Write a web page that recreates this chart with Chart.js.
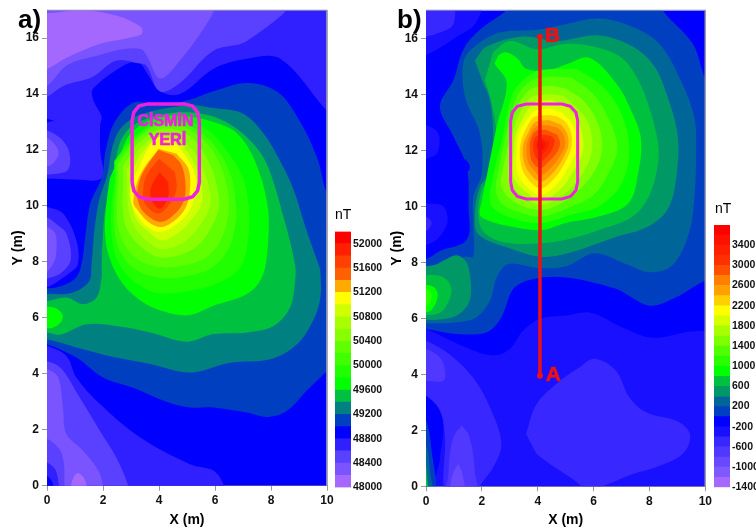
<!DOCTYPE html>
<html>
<head>
<meta charset="utf-8">
<title>Manyetik anomali haritalari</title>
<script src="https://cdn.jsdelivr.net/npm/chart.js@4"></script>
<style>
  html, body { margin: 0; padding: 0; background: #fff; overflow: hidden; width: 756px; height: 529px; }
  .box { position: absolute; top: 0; height: 529px; }
  canvas { filter: blur(0.35px); }
  .txt { position: absolute; font-family: "Liberation Sans", Arial, sans-serif; color: #000; line-height: 1; }
</style>
</head>
<body>
<div class="box" style="left:0;width:339px"><canvas id="mapA"></canvas></div>
<div class="box" style="left:379px;width:339px"><canvas id="mapB"></canvas></div>
<div class="box" style="left:330px;width:60px"><canvas id="barA"></canvas></div>
<div class="box" style="left:709px;width:47px"><canvas id="barB"></canvas></div>
<div class="txt" style="left:18px;top:6px;font-size:26px;font-weight:bold">a)</div>
<div class="txt" style="left:397px;top:6px;font-size:26px;font-weight:bold">b)</div>
<div class="txt" style="left:335px;top:207px;font-size:14px">nT</div>
<div class="txt" style="left:715px;top:201px;font-size:14px">nT</div>
<script>
var xTicks = [0, 2, 4, 6, 8, 10];
var yTicks = [0, 2, 4, 6, 8, 10, 12, 14, 16];

var bandsA = [48000, 48200, 48400, 48600, 48800, 49000, 49200, 49400, 49600, 49800, 50000,
  50200, 50400, 50600, 50800, 51000, 51200, 51400, 51600, 51800, 52000];
var colorsA = ["#a468ff", "#7a55ff", "#5a40ff", "#3020ff", "#0000ff", "#0040c0", "#008080",
  "#00c040", "#00ff00", "#20ff00", "#40ff00", "#60ff00", "#88ff00", "#a8ff00", "#d0ff00",
  "#ffff00", "#ffaa00", "#ff6000", "#ff4000", "#ff2000", "#ff0000"];
var barTicksA = [48000, 48400, 48800, 49200, 49600, 50000, 50400, 50800, 51200, 51600, 52000];

var bandsB = [-1400, -1200, -1000, -800, -600, -400, -200, 0, 200, 400, 600, 800, 1000,
  1200, 1400, 1600, 1800, 2000, 2200, 2400, 2600, 2800, 3000, 3200, 3400, 3600];
var colorsB = ["#a468ff", "#8058ff", "#6a48ff", "#5038ff", "#3828ff", "#1810ff", "#0000ff",
  "#0040c0", "#006699", "#009966", "#00c040", "#00ff00", "#28ff00", "#50ff00", "#80ff00",
  "#a8ff00", "#d8ff00", "#ffff00", "#ffd000", "#ffa000", "#ff8000", "#ff5000", "#ff3000",
  "#ff2000", "#ff1000", "#ff0000"];
var barTicksB = [-1400, -1000, -600, -200, 200, 600, 1000, 1400, 1800, 2200, 2600, 3000, 3400];

// filled contours, painted in this order: [band, outline in metres]
var contoursA = [
  [48800, [[0,0],[10,0],[10,17],[0,17]]],
  [48600, [[-.3,17.3],[10.3,17.3],[10.3,13.2],[10,13.4],[8.33,15.26],[7.14,15.26],[5.94,14.9],[4.75,14],[4.03,14.1],[3.6,14.7],[3.3,15.1],[2.84,15.08],[1.65,14.2],[1.65,13.8],[1.95,13.2],[1.9,12.9],[1.9,12],[1.95,11],[1,10.95],[0,10.98],[-.3,11]]],
  [48400, [[-.3,17.3],[8.57,17.3],[7.14,15.9],[5.94,15.55],[4.75,14.4],[4.03,14.1],[3.56,15],[3.26,15.1],[2.48,15.2],[1.6,14.6],[.6,14.3],[0,13.9],[-.3,13.8]]],
  [48200, [[-.3,17.3],[5.97,17.3],[5.97,17],[5.47,16.16],[4.75,15.2],[4.2,14.6],[3.95,14.6],[3.6,15.3],[3.36,15.6],[2.7,15.6],[1.89,15.4],[.75,15.05],[0,14.3],[-.3,14.3]]],
  [48000, [[-.3,16.9],[.1,16.9],[1.3,17],[2.5,16.8],[3.35,16.4],[3.38,16.15],[2.85,16],[1.9,15.8],[.7,15.3],[0,14.9],[-.3,14.9]]],
  [48800, [[-.3,13.2],[.25,13.05],[-.3,12.9]]],
  [48400, [[-.3,12.7],[0,12.7],[.5,12.4],[.8,11.9],[.75,11.3],[.3,11.15],[-.3,11.1]]],
  [48200, [[-.3,12.45],[0,12.45],[.35,12.1],[.4,11.8],[.1,11.45],[-.3,11.45]]],
  [48600, [[-.3,10],[0,9.96],[.57,9.73],[1.05,8.77],[1.1,7.9],[.8,7.6],[.3,7.25],[0,7.1],[-.3,7.05]]],
  [48400, [[-.3,9.6],[0,9.6],[.4,9.3],[.7,9],[.85,8.1],[.5,7.6],[0,7.4],[-.3,7.35]]],
  [48200, [[-.3,9.25],[0,9.25],[.3,9],[.33,8.3],[.25,8],[0,7.65],[-.3,7.6]]],
  [48600, [[-.3,5.05],[0,5],[.69,4.64],[1.05,3.87],[1.89,2.92],[3.32,1.73],[5.1,.77],[5.94,.54],[6.3,.05],[6.3,-.3],[-.3,-.3]]],
  [48400, [[-.3,4.5],[0,4.46],[.5,4.2],[1.17,3.15],[1.89,1.96],[2.48,1],[2.9,0],[2.9,-.3],[-.3,-.3]]],
  [48200, [[-.3,4.17],[0,4.17],[.4,3.87],[.57,2.8],[.69,1.85],[1.29,1.25],[1.89,.42],[1.92,-.3],[.75,-.3],[.6,.8],[.45,1.3],[0,1.68],[-.3,1.68]]],
  [48000, [[.75,-.3],[.85,0],[.95,.3],[1.1,.45],[1.3,.3],[1.42,0],[1.5,-.3]]],
  [48600, [[-.3,.85],[0,.83],[.33,.5],[.36,-.3],[-.3,-.3]]],
  [48800, [[-.3,.4],[0,.35],[.2,.1],[.2,-.3],[-.3,-.3]]],
  [49000, [[-.3,5.06],[0,5.06],[1.05,4.58],[2,3.87],[3.08,3.5],[4.27,3],[5.1,2.8],[5.94,2.8],[7.14,2.62],[7.9,2.46],[8.57,2.68],[9.28,3.4],[10,4.1],[10.3,4.4],[10.3,10.2],[10,10.44],[9.64,11.75],[8.93,13.2],[8.2,14.1],[7.14,14.4],[5.94,14.1],[5.1,13.8],[4,13.6],[3.1,13.7],[2.42,13],[2.1,12],[1.95,11],[1.55,10.1],[1.38,9],[1.23,7.9],[1,7.4],[.4,7.1],[0,7.05],[-.3,7.05]]],
  [49200, [[-.3,5.24],[0,5.24],[1.29,4.88],[2.48,4.58],[3.68,4.35],[5.1,4.05],[6.54,4.4],[7.97,4.52],[8.93,5.06],[9.5,5.9],[9.76,6.7],[9.76,7.68],[9.7,7.9],[9.23,9.25],[8.8,10.6],[8.33,11.6],[7.73,12.6],[7,13.3],[5.94,13.5],[5.1,13.6],[3.44,13.3],[2.72,12.88],[2.36,12.2],[2.15,11.1],[1.86,10.2],[1.7,9.2],[1.59,7.92],[1.5,7.3],[.9,6.9],[0,6.85],[-.3,6.85]]],
  [49400, [[-.3,5.48],[0,5.48],[.48,5.4],[1.41,5.77],[2.48,5.71],[3.68,5.48],[5,5.15],[5.94,5.42],[7.14,5.48],[8.09,5.71],[8.68,6.37],[8.86,7.32],[8.86,7.9],[8.45,9.6],[7.85,11.5],[7.3,12.3],[6.4,13],[5.5,13.3],[4.3,13.3],[3.1,12.9],[2.6,12.25],[2.4,11.15],[2.1,10],[2,9],[1.95,7.92],[1.95,7.44],[1.77,6.73],[1.29,6.49],[.69,6.73],[0,6.6],[-.3,6.6]]],
  [49600, [[-.3,6.4],[.3,6.35],[.55,6.1],[.5,5.85],[.2,5.65],[-.3,5.65]]],
  [49800, [[-.3,6.1],[.1,6],[-.3,5.9]]],
  [49600, [[2.24,10.98],[2.13,10.14],[2.07,9.07],[2.24,8.12],[2.72,7.2],[3.44,6.55],[4.27,6.2],[5.1,6.1],[5.94,6.43],[7.14,6.85],[7.67,7.44],[7.88,8.5],[7.88,9.98],[7.43,11.6],[6.78,12.6],[5.94,13],[5,13.2],[3.9,13.15],[3,12.6],[2.55,11.7]]],
  [49800, [[2.4,11.6],[2.4,10.8],[2.3,10],[2.3,9],[2.5,8.1],[3,7.4],[3.6,7],[4.1,6.87],[5,6.95],[6,7.2],[6.9,7.8],[7.2,9],[7.2,10],[7,11],[6.4,12],[5.7,12.75],[4.8,13.05],[3.9,13],[3,12.4]]],
  [50000, [[2.47,11.55],[2.47,10.8],[2.4,10],[2.42,9.1],[2.65,8.3],[3.2,7.7],[4.1,7.43],[5,7.5],[5.9,7.8],[6.5,8.5],[6.75,9.5],[6.75,10],[6.6,11],[6.1,12],[5.45,12.65],[4.75,12.97],[3.9,12.92],[3.05,12.35]]],
  [50200, [[2.55,11.5],[2.55,10.8],[2.5,10],[2.55,9.2],[2.85,8.5],[3.4,8],[4.1,7.82],[5,7.9],[5.8,8.25],[6.3,9],[6.5,10],[6.35,11],[5.9,12],[5.3,12.6],[4.7,12.9],[3.9,12.85],[3.1,12.3]]],
  [50400, [[2.7,11.4],[2.72,10.8],[2.7,10],[2.8,9.3],[3.1,8.8],[3.6,8.35],[4.1,8.15],[4.9,8.3],[5.5,8.7],[5.95,9.4],[6.15,10],[6,11],[5.6,11.9],[5.1,12.5],[4.5,12.75],[3.9,12.7],[3.2,12.2]]],
  [50600, [[2.85,11.3],[2.87,10.7],[2.9,10],[3,9.5],[3.3,9],[3.7,8.65],[4.1,8.45],[4.8,8.65],[5.3,9.1],[5.7,9.7],[5.85,10.2],[5.7,11],[5.35,11.8],[4.9,12.3],[4.4,12.6],[3.9,12.55],[3.25,12]]],
  [50800, [[3,11.2],[3,10.6],[3.05,10],[3.2,9.5],[3.55,9.15],[4.1,8.77],[4.7,9.05],[5.15,9.5],[5.5,10],[5.55,10.5],[5.4,11.2],[5.1,11.8],[4.7,12.3],[3.95,12.45],[3.3,11.8]]],
  [51000, [[3.26,11.33],[3,10.74],[3,10.14],[3.26,9.6],[3.68,9.19],[4.09,9.07],[4.57,9.3],[5.05,9.78],[5.29,10.38],[5.29,11.1],[4.93,11.81],[4.5,12.29],[3.97,12.46],[3.5,11.87]]],
  [51200, [[3.98,12.05],[3.32,11.1],[3.08,10.14],[3.2,9.9],[3.62,9.43],[4.09,9.25],[4.57,9.49],[4.93,9.9],[5.1,10.5],[5.05,11.33],[4.63,11.87]]],
  [51400, [[3.98,12],[3.5,11.33],[3.26,10.74],[3.26,10.14],[3.5,9.73],[4.04,9.43],[4.51,9.67],[4.87,10.14],[4.95,10.74],[4.81,11.45],[4.51,11.81]]],
  [51600, [[4,11.69],[3.56,11.1],[3.44,10.62],[3.5,10.08],[3.98,9.73],[4.39,10.08],[4.63,10.62],[4.57,11.21]]],
  [51800, [[4.03,11.21],[3.74,10.74],[3.71,10.26],[4.04,9.9],[4.33,10.32],[4.33,10.86]]]
];

var contoursB = [
  [-200, [[0,0],[10,0],[10,17],[0,17]]],
  [-400, [[-.3,5.7],[0,5.62],[1.57,4.9],[2.41,4.67],[3,4.9],[3.48,5.56],[4.08,5.98],[5,6.1],[5.9,6.2],[7.04,5.67],[8.11,5.3],[9.3,5.5],[10,5.56],[10.3,5.6],[10.3,-.3],[.44,-.3],[.5,1],[.62,2],[.5,2.82],[0,3.24],[-.3,3.3]]],
  [-600, [[-.3,5.2],[0,5.2],[.86,4.7],[1.7,3.86],[2.3,2.8],[2.7,1.52],[2.41,.68],[1.93,0],[1.9,-.3],[.74,-.3],[.68,1.75],[.5,2.7],[0,3.24],[-.3,3.3]]],
  [-800, [[-.3,4.9],[0,4.9],[.5,4.6],[.68,4.13],[.62,3.77],[0,3.77],[-.3,3.77]]],
  [-800, [[1.28,2.17],[1,1.8],[.85,1.1],[.8,.4],[.75,-.3],[1.8,-.3],[1.75,.5],[1.65,1.4],[1.5,1.9]]],
  [-1000, [[1.16,.8],[1,.55],[.9,.2],[.88,-.3],[1.4,-.3],[1.35,.2],[1.28,.55]]],
  [-600, [[3.58,1.87],[3.96,2.94],[4.8,3.77],[5.5,4.25],[6.03,4.55],[6.8,4.13],[7.28,3.18],[7.88,2.64],[9.07,2.29],[9.46,1.81],[9.19,1.15],[8.23,.68],[7.4,.44],[6.3,0],[5.79,-.1],[5.2,.3],[4.5,.75],[3.96,1.15]]],
  [-400, [[-.2,17.3],[1.96,17.3],[1.75,16.5],[1.1,16.05],[.4,15.6],[-.2,15.3]]],
  [-600, [[-.2,17.3],[.92,17.3],[.98,16.5],[.5,16.2],[-.2,16]]],
  [-400, [[-.3,12.9],[0,12.9],[.44,12.6],[.4,11.9],[0,11.7],[-.3,11.7]]],
  [-400, [[-.3,10.1],[0,10.1],[.62,10],[.76,9.4],[.38,8.8],[0,8.62],[-.3,8.6]]],
  [-600, [[-.3,9.63],[0,9.63],[.2,9.4],[0,9.1],[-.3,9.1]]],
  [0, [[-.3,2.4],[0,2.35],[.2,1.27],[.32,-.3],[-.3,-.3]]],
  [200, [[-.3,1.45],[0,1.45],[.14,.56],[.2,-.3],[-.3,-.3]]],
  [600, [[-.3,.8],[0,.8],[.1,-.3],[-.3,-.3]]],
  [0, [[-.3,5.62],[0,5.62],[1.1,5.44],[2.17,5.5],[2.7,6.04],[3.13,7.05],[3.84,7.4],[5,7.46],[6.8,7.05],[7.99,6.45],[8.95,6.75],[10,7.35],[10.3,7.35],[10.3,14.3],[10,14.57],[9.55,15.8],[8.47,17],[8.47,17.3],[3.1,17.3],[2.89,17],[1.93,16.3],[1.34,15.6],[.98,14.5],[.5,13.56],[.98,12.5],[1.46,11.4],[1.52,10],[1.46,8.8],[.5,8.4],[0,8.1],[-.3,8.1]]],
  [-200, [[1.4,11.7],[1.55,11.5],[1.55,11.3],[1.4,11.2],[1.25,11.4]]],
  [200, [[-.3,5.82],[0,5.82],[1.1,5.86],[1.81,6.04],[2.29,6.63],[2.53,7.46],[2.95,7.94],[4,7.8],[5,7.85],[6.03,8.32],[7.16,7.94],[8.05,7.64],[8.83,7.9],[9.4,9],[9.6,10.2],[9.67,12],[9.6,13.2],[9.07,14.6],[8.35,15.8],[7.4,16.4],[6.2,16.7],[5,16.5],[4,16.3],[2.65,16.2],[1.87,15.8],[1.36,15.2],[1.4,13.9],[1.93,12.6],[2,11.2],[1.7,10.35],[1.7,9.27],[1.69,8.2],[1.4,8.2],[.7,7.9],[0,7.58],[-.3,7.58]]],
  [400, [[-.2,5.95],[.4,5.95],[1.1,6.1],[1.55,6.6],[1.6,7.3],[1.45,8],[1.1,8.25],[.7,8.1],[.3,7.9],[-.2,7.85]]],
  [400, [[1.75,15.2],[2.17,15.7],[3.48,16.06],[4.68,15.9],[6.2,16.1],[7.4,15.7],[8.17,15],[8.65,13.9],[9,12.6],[9,11.4],[8.71,10],[8,9.3],[6.8,8.9],[5,8.3],[4.1,8.2],[3,8.5],[1.87,9],[1.75,9.75],[1.93,10.7],[2.29,11.2],[2.41,12.4],[2.29,13.8],[2.05,14.4]]],
  [600, [[-.2,6.1],[.5,6.2],[.85,6.7],[.9,7.1],[.65,7.45],[.2,7.55],[-.2,7.5]]],
  [600, [[2.11,14.5],[2.35,13.68],[2.53,12.37],[2.29,11.06],[1.99,10.58],[1.87,9.63],[2.11,9.04],[2.89,8.7],[4.14,8.68],[5,8.8],[6.2,9.15],[7.4,9.63],[8,10.4],[8.3,11.5],[8.3,12.3],[8,13.5],[7.6,14.5],[7,15.3],[6,15.7],[5,15.8],[4,15.6],[3,15.9],[2.4,15.5]]],
  [800, [[-.2,6.15],[.2,6.3],[.42,6.8],[.3,7.1],[0,7.2],[-.2,7.2]]],
  [1000, [[-.2,6.4],[.1,6.5],[.2,6.8],[.1,7],[-.2,7.05]]],
  [800, [[2.6,15.4],[2.85,15.5],[3.25,15.3],[3.6,14.9],[4.4,14.87],[5.1,15.1],[5.85,15.3],[6.8,14.4],[7.4,13.3],[7.7,12.37],[7.6,11.2],[7.24,10.1],[6.17,9.63],[5,9.4],[4.14,9.15],[2.9,9.3],[2.2,9.5],[1.93,9.7],[2,10.2],[2.17,11.06],[2.53,12.85],[2.89,14.4],[2.45,15.1]]],
  [1000, [[4.5,14.9],[3.9,14.8],[3.2,14.2],[2.95,13.5],[2.75,12.5],[2.45,11.3],[2.3,10.5],[2.35,10],[3,9.6],[4.1,9.4],[5.2,9.7],[6.2,10],[7,10.8],[7.28,12],[7,13.3],[6.3,14.3],[5.4,14.9]]],
  [1200, [[4.5,14.63],[3.8,14.5],[3.3,14],[3.05,13.3],[2.85,12.5],[2.6,11.3],[2.5,10.6],[2.7,10.1],[3.3,9.8],[4.1,9.63],[5.1,9.95],[6,10.4],[6.6,11.3],[6.85,12.1],[6.6,13],[6,14],[5.2,14.6]]],
  [1400, [[4.5,14.3],[3.8,14.2],[3.35,13.7],[3.1,13],[2.95,12.2],[2.75,11.3],[2.7,10.7],[3.1,10.2],[4.1,9.87],[5,10.2],[5.7,10.8],[6.2,11.6],[6.3,12.3],[6.1,13.1],[5.6,13.8],[5,14.2]]],
  [1600, [[4.5,14],[3.8,13.9],[3.4,13.4],[3.1,12.6],[3,12],[2.95,11.3],[3,10.8],[3.4,10.4],[4.1,10.05],[4.9,10.4],[5.5,11],[5.9,11.8],[5.95,12.4],[5.75,13.1],[5.3,13.6],[4.9,13.95]]],
  [1800, [[4.5,13.8],[3.9,13.7],[3.5,13.2],[3.2,12.5],[3.15,12],[3.1,11.3],[3.2,10.9],[3.6,10.5],[4.1,10.2],[4.8,10.6],[5.25,11.2],[5.6,11.9],[5.63,12.4],[5.45,13],[5.1,13.5]]],
  [2000, [[4.4,13.5],[3.9,13.4],[3.55,13],[3.3,12.5],[3.25,12],[3.25,11.3],[3.5,10.8],[4.1,10.4],[4.7,10.8],[5.1,11.4],[5.4,12],[5.4,12.5],[5.2,13],[4.85,13.35]]],
  [2200, [[4.4,13.26],[3.9,13.2],[3.6,12.8],[3.4,12.3],[3.37,11.7],[3.55,11.1],[4.1,10.64],[4.6,11],[5,11.6],[5.2,12.1],[5.2,12.6],[5,13],[4.7,13.2]]],
  [2400, [[4.4,13.08],[3.9,13],[3.65,12.6],[3.48,12.2],[3.5,11.6],[3.7,11.2],[4.1,10.88],[4.55,11.2],[4.9,11.7],[5.1,12.2],[5.05,12.6],[4.85,12.9]]],
  [2600, [[4.35,12.9],[3.95,12.85],[3.7,12.5],[3.6,12.1],[3.65,11.6],[3.85,11.3],[4.1,11.1],[4.5,11.4],[4.8,11.8],[4.98,12.2],[4.9,12.6],[4.7,12.8]]],
  [2800, [[4.3,12.73],[3.95,12.7],[3.75,12.4],[3.72,12],[3.8,11.6],[4.1,11.36],[4.4,11.6],[4.7,11.95],[4.8,12.25],[4.7,12.55]]],
  [3000, [[4.25,12.55],[3.95,12.5],[3.84,12.2],[3.88,11.85],[4.1,11.6],[4.35,11.8],[4.55,12.1],[4.6,12.35],[4.5,12.5]]],
  [3200, [[4.2,12.4],[4,12.35],[3.96,12.1],[4.1,11.83],[4.35,12.05],[4.42,12.3]]],
  [3400, [[4.1,12.35],[3.98,12.2],[4.1,11.95],[4.27,12.15],[4.25,12.3]]],
  [3600, [[4.08,12.27],[4,12.15],[4.1,12.05],[4.2,12.15]]]
];

var boxA = [[3.04,10.85],[3.04,13.05],[3.1,13.35],[3.28,13.57],[3.6,13.65],[4.9,13.65],[5.2,13.57],[5.38,13.35],[5.44,13.05],[5.44,10.85],[5.38,10.55],[5.2,10.33],[4.9,10.24],[3.6,10.24],[3.28,10.33],[3.1,10.55],[3.04,10.85]];
var boxB = [[3.03,10.87],[3.03,13.05],[3.09,13.35],[3.27,13.57],[3.59,13.65],[4.87,13.65],[5.17,13.57],[5.37,13.35],[5.43,13.05],[5.43,10.87],[5.37,10.57],[5.17,10.35],[4.87,10.26],[3.59,10.26],[3.27,10.35],[3.09,10.57],[3.03,10.87]];
var profileAB = [[4.08,3.95],[4.08,16.05]];
var frame = [[0,17],[10,17],[10,0]];

var notesA = [
  { text: "CİSMİN", x: 4.23, y: 13.03, color: "#f020e0", size: 16 },
  { text: "YERİ", x: 4.3, y: 12.33, color: "#f020e0", size: 16 }
];
var notesB = [
  { text: "A", x: 4.56, y: 3.95, color: "#ee1111", size: 21 },
  { text: "B", x: 4.52, y: 16.06, color: "#ee1111", size: 21 }
];

Chart.defaults.font.family = '"Liberation Sans", Arial, sans-serif';
Chart.defaults.color = "#111";
Chart.defaults.animation = false;
Chart.defaults.responsive = false;

function toPoints(list) {
  return list.map(function (p) { return { x: p[0], y: p[1] }; });
}

var notesPlugin = {
  id: "notes",
  afterDatasetsDraw: function (chart, args, opts) {
    var ctx = chart.ctx;
    ctx.save();
    ctx.textAlign = "center";
    ctx.textBaseline = "middle";
    opts.items.forEach(function (n) {
      ctx.font = 'bold ' + n.size + 'px "Liberation Sans", Arial, sans-serif';
      ctx.fillStyle = n.color;
      ctx.strokeStyle = n.color;
      ctx.lineWidth = 0.7;
      var px = chart.scales.x.getPixelForValue(n.x);
      var py = chart.scales.y.getPixelForValue(n.y);
      ctx.fillText(n.text, px, py);
      ctx.strokeText(n.text, px, py);
    });
    ctx.restore();
  }
};

function buildMap(id, contours, bands, colors, box, boxWidth, notes, top, bottom, rightPad, extra) {
  var sets = contours.map(function (c) {
    return {
      data: toPoints(c[1]),
      showLine: true,
      fill: "shape",
      backgroundColor: colors[bands.indexOf(c[0])],
      borderWidth: 0,
      pointRadius: 0,
      tension: c[1].length < 5 ? 0 : 0.35,
      capBezierPoints: false
    };
  });
  sets.push({ data: toPoints(box), showLine: true, fill: false, borderColor: "#f020e0", borderWidth: boxWidth, pointRadius: 0, tension: 0, backgroundColor: "transparent" });
  sets = sets.concat(extra);
  sets.push({ data: toPoints(frame), showLine: true, fill: false, borderColor: "#9a9ab4", borderWidth: 1, pointRadius: 0, tension: 0, clip: false, backgroundColor: "transparent" });
  // first dataset is drawn last by Chart.js, so number them from the back
  sets.forEach(function (s, i) { s.order = sets.length - i; });

  return new Chart(document.getElementById(id), {
    type: "scatter",
    data: { datasets: sets },
    plugins: [notesPlugin],
    options: {
      events: [],
      layout: { padding: { top: top, right: rightPad, left: 0, bottom: 0 } },
      plugins: { legend: { display: false }, tooltip: { enabled: false }, notes: { items: notes } },
      scales: {
        x: {
          type: "linear", min: 0, max: 10,
          afterBuildTicks: function (s) { s.ticks = xTicks.map(function (v) { return { value: v }; }); },
          afterFit: function (s) { s.height = bottom; },
          grid: { drawOnChartArea: false, color: "#999", tickLength: 5 },
          border: { color: "#999" },
          ticks: { maxRotation: 0, autoSkip: false, padding: 3, font: { size: 12, weight: "bold" }, color: "#111" },
          title: { display: true, text: "X (m)", font: { size: 14, weight: "bold" }, color: "#000", padding: { top: 2, bottom: 0 } }
        },
        y: {
          type: "linear", min: 0, max: 17,
          afterBuildTicks: function (s) { s.ticks = yTicks.map(function (v) { return { value: v }; }); },
          afterFit: function (s) { s.width = 47; },
          grid: { drawOnChartArea: false, color: "#999", tickLength: 5 },
          border: { color: "#999" },
          ticks: { autoSkip: false, padding: 3, font: { size: 12, weight: "bold" }, color: "#111" },
          title: { display: true, text: "Y (m)", font: { size: 14, weight: "bold" }, color: "#000", padding: { top: 10, bottom: 0 } }
        }
      }
    }
  });
}

function buildBar(id, bands, colors, barTicks, step, top, bottom, axisWidth) {
  var sets = bands.map(function (b, i) {
    return { data: [[b, b + step]], backgroundColor: colors[i], borderWidth: 0, barPercentage: 1, categoryPercentage: 1, grouped: false };
  });
  return new Chart(document.getElementById(id), {
    type: "bar",
    data: { labels: ["nT"], datasets: sets },
    options: {
      events: [],
      layout: { padding: { top: top, bottom: bottom, left: 5, right: 0 } },
      plugins: { legend: { display: false }, tooltip: { enabled: false } },
      scales: {
        x: { display: false },
        y: {
          position: "right",
          min: bands[0], max: bands[bands.length - 1] + step,
          afterBuildTicks: function (s) { s.ticks = barTicks.map(function (v) { return { value: v }; }); },
          afterFit: function (s) { s.width = axisWidth; },
          grid: { display: false, drawTicks: false },
          border: { display: false },
          ticks: { autoSkip: false, padding: 2, font: { size: 10.5, weight: "bold" }, color: "#111", callback: function (v) { return String(v); } }
        }
      }
    }
  });
}

function sizeCanvas(id, w, h) {
  var c = document.getElementById(id);
  c.width = w; c.height = h;
  c.style.width = w + "px"; c.style.height = h + "px";
}
sizeCanvas("mapA", 339, 529);
sizeCanvas("mapB", 339, 529);
sizeCanvas("barA", 60, 529);
sizeCanvas("barB", 47, 529);

var profileSet = {
  data: toPoints(profileAB), showLine: true, fill: false, borderColor: "#ee1111", borderWidth: 3.5,
  pointRadius: 3, pointBackgroundColor: "#ee1111", pointBorderWidth: 0, tension: 0, backgroundColor: "transparent"
};

buildMap("mapA", contoursA, bandsA, colorsA, boxA, 3.5, notesA, 9.5, 43.3, 12, []);
buildMap("mapB", contoursB, bandsB, colorsB, boxB, 3, notesB, 10, 42.7, 12.7, [profileSet]);
buildBar("barA", bandsA, colorsA, barTicksA, 200, 231.5, 41.5, 39);
buildBar("barB", bandsB, colorsB, barTicksB, 200, 225, 41.7, 26);
</script>
</body>
</html>
